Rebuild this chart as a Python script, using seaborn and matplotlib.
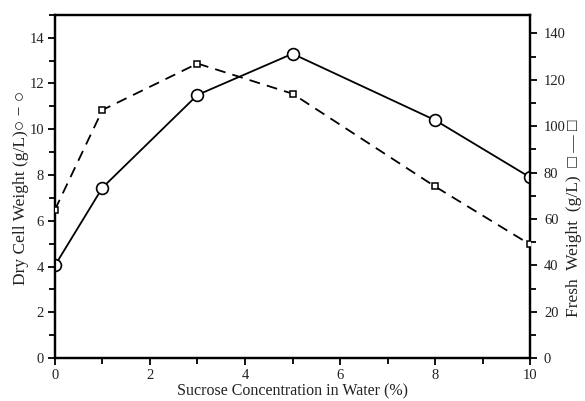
import matplotlib
matplotlib.use("Agg")
import matplotlib.pyplot as plt
import seaborn as sns
import pandas as pd
from matplotlib.ticker import MultipleLocator

sucrose = [0, 1, 3, 5, 8, 10]
dry_weight = [4.05, 7.45, 11.5, 13.3, 10.4, 7.9]
fresh_weight = [64, 107, 127, 114, 74, 49]

sns.set_theme(style="white")
plt.rcParams['font.family'] = ['Liberation Serif', 'DejaVu Serif']

fig = plt.figure(figsize=(5.85, 4.01), dpi=100)
ax = fig.add_axes([0.094, 0.107, 0.812, 0.856])

df = pd.DataFrame({"x": sucrose, "dry": dry_weight, "fresh": fresh_weight})

sns.lineplot(data=df, x="x", y="dry", ax=ax, color="black", lw=1.3,
             marker="o", markersize=8.5, markerfacecolor="white",
             markeredgecolor="black", markeredgewidth=1.2, zorder=3)
ax2 = ax.twinx()
sns.lineplot(data=df, x="x", y="fresh", ax=ax2, color="black", lw=1.3,
             linestyle=(0, (6, 4)), marker="s", markersize=4.5,
             markerfacecolor="white", markeredgecolor="black",
             markeredgewidth=1.1, zorder=3)

ax.set_xlim(0, 10)
ax.set_ylim(0, 15)
ax2.set_ylim(0, 148)

ax.xaxis.set_major_locator(MultipleLocator(2))
ax.xaxis.set_minor_locator(MultipleLocator(1))
ax.yaxis.set_major_locator(MultipleLocator(2))
ax.yaxis.set_minor_locator(MultipleLocator(1))
ax2.yaxis.set_major_locator(MultipleLocator(20))
ax2.yaxis.set_minor_locator(MultipleLocator(10))

for a in (ax, ax2):
    for s in a.spines.values():
        s.set_color("black")
        s.set_linewidth(1.6)
ax.tick_params(which="both", direction="out", color="black", width=1.3,
               labelsize=10.5, labelcolor="#222222", pad=3)
ax.tick_params(which="major", length=5)
ax.tick_params(which="minor", length=4)
ax.tick_params(axis="x", which="both", bottom=True)
ax.tick_params(axis="y", which="both", left=True)
ax2.tick_params(which="both", direction="out", color="black", width=1.3,
                labelsize=10.5, labelcolor="#222222", right=True, pad=5)
ax2.tick_params(which="major", length=5)
ax2.tick_params(which="minor", length=4)

ax.set_xlabel("Sucrose Concentration in Water (%)", fontsize=11.5, color="#222222", labelpad=1)
ax.set_ylabel("")
ax2.set_ylabel("")
fig.text(0.036, 0.532, "Dry Cell Weight (g/L)\u25cb \u2212 \u25cb", fontsize=12.5,
         color="#222222", rotation=90, ha="center", va="center")
fig.text(0.982, 0.455, "Fresh  Weight  (g/L)  \u25a1 \u2014 \u25a1", fontsize=12.5,
         color="#222222", rotation=90, ha="center", va="center")

fig.savefig("out.png", dpi=100)
